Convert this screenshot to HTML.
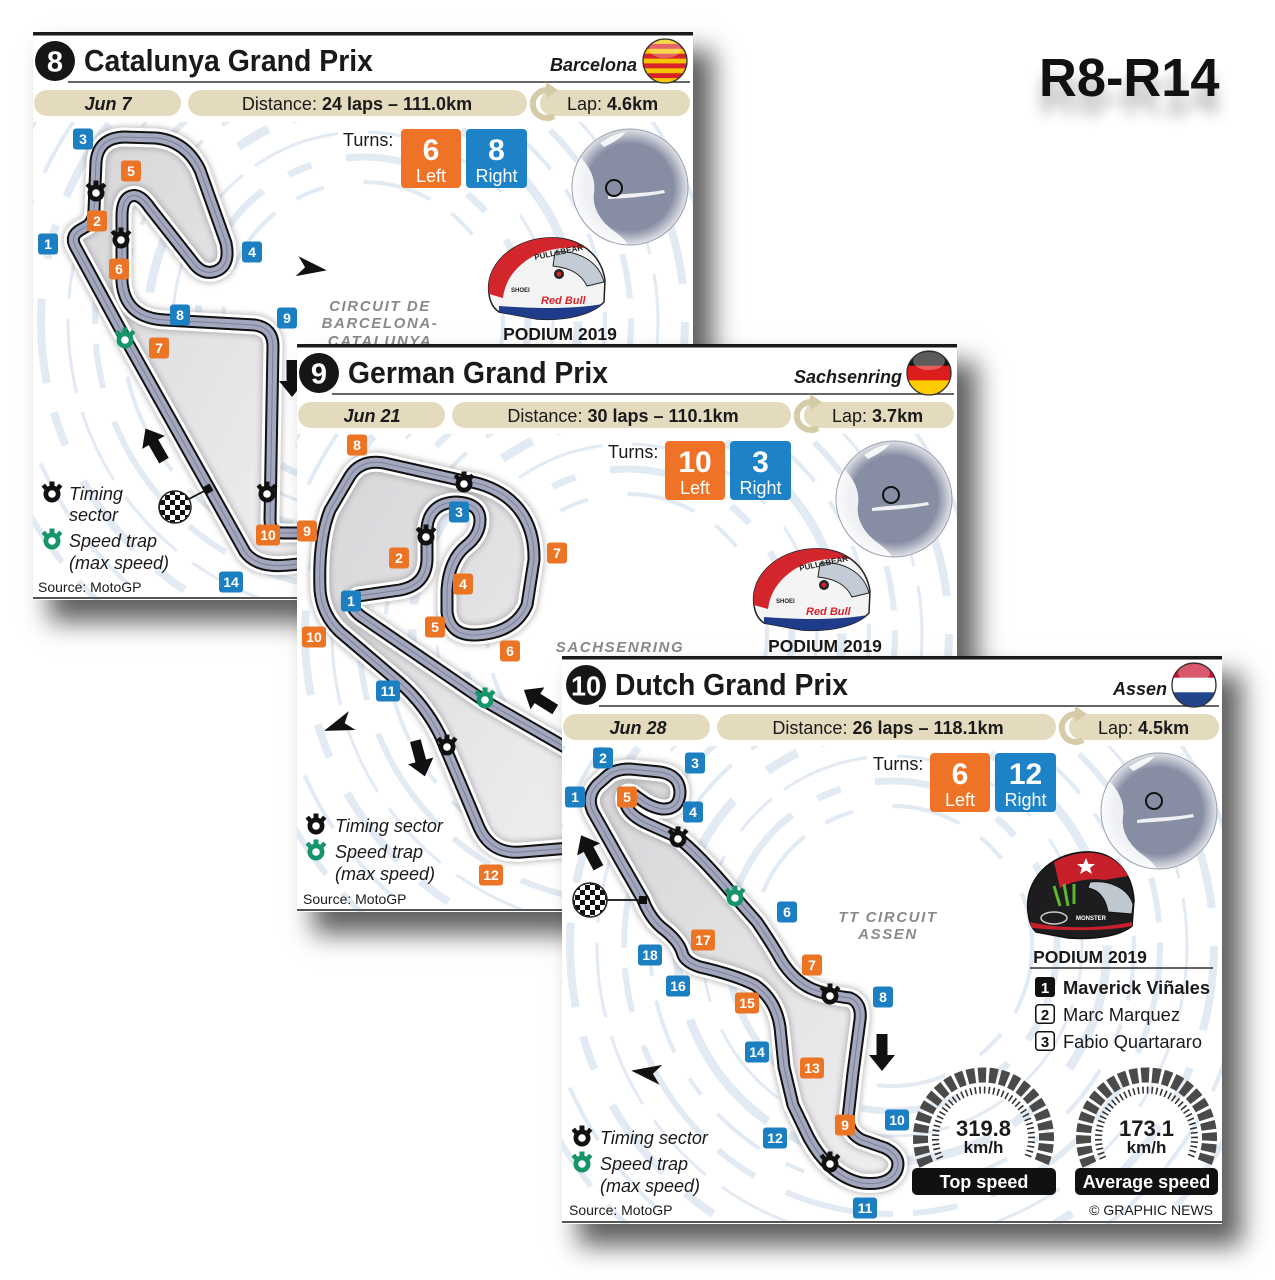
<!DOCTYPE html>
<html><head><meta charset="utf-8">
<style>
html,body{margin:0;padding:0;background:#fff;}
body{width:1275px;height:1280px;position:relative;overflow:hidden;font-family:"Liberation Sans",Arial,sans-serif;}
.card{position:absolute;width:660px;height:568px;background:#fff;box-shadow:18px 20px 24px 2px rgba(0,0,0,.62);}
.card svg{display:block;}
text{font-family:"Liberation Sans",Arial,sans-serif;}
.lt{font-size:14px;font-weight:bold;fill:#fff;text-anchor:middle;}
.o{fill:#ec7425;}.bl{fill:#1c7fc2;}
.leg{font-size:18px;font-style:italic;fill:#1a1a1a;}
.src{font-size:14px;fill:#1a1a1a;}
.cn{font-size:15px;font-weight:bold;font-style:italic;fill:#8a8a8a;letter-spacing:1.6px;text-anchor:middle;}
.pill{fill:#e4dabd;}
.pt{font-size:18px;fill:#1a1a1a;}
#r8{position:absolute;left:1039px;top:51px;font-size:54px;font-weight:bold;line-height:54px;transform:scaleX(.97);transform-origin:0 0;color:#111;text-shadow:0 18px 14px rgba(0,0,0,.3);white-space:nowrap;}
</style></head>
<body>
<svg width="0" height="0" style="position:absolute;left:0;top:0">
<defs>
<radialGradient id="rim" cx="0.5" cy="0.5" r="0.5"><stop offset="0" stop-color="#fff" stop-opacity="0"/><stop offset="0.75" stop-color="#fff" stop-opacity="0"/><stop offset="1" stop-color="#fff" stop-opacity="0.75"/></radialGradient>
<linearGradient id="inf" x1="0" y1="0" x2="1" y2="1"><stop offset="0" stop-color="#d6d6d9"/><stop offset="1" stop-color="#efeff1"/></linearGradient>
<pattern id="chk" width="10" height="10" patternUnits="userSpaceOnUse"><rect width="10" height="10" fill="#fff"/><rect width="5" height="5" fill="#111"/><rect x="5" y="5" width="5" height="5" fill="#111"/></pattern>
<filter id="blur" x="-20%" y="-20%" width="140%" height="140%"><feGaussianBlur stdDeviation="3"/></filter>
<clipPath id="bgc"><rect x="0" y="90" width="660" height="478"/></clipPath>
<g id="tm"><circle cy="1" r="8.5"/><rect x="-2.5" y="-11.5" width="5" height="5"/><rect x="-9.5" y="-8.5" width="4.5" height="4.5" transform="rotate(-40 -7.2 -6.2)"/><rect x="5" y="-8.5" width="4.5" height="4.5" transform="rotate(40 7.2 -6.2)"/><circle cy="1" r="3.8" fill="#fff"/></g>
<g id="ar"><polygon points="0,-19 13,-3 5.5,-3 5.5,18 -5.5,18 -5.5,-3 -13,-3"/></g>
<g id="cv"><path d="M17 0 L-13 -10 L-5 0 L-13 10 Z"/></g>
<g id="globe">
<circle r="58" fill="#878ea4"/>
<path d="M-50 -30 C-40 -20 -34 -8 -36 6 C-38 20 -30 34 -16 44 C-8 50 -4 54 -2 58 L-20 56 C-40 48 -56 30 -58 6 C-58 -10 -55 -22 -50 -30 Z" fill="#eef0f3"/>
<path d="M-22 9 C-6 6 12 7 34 3 L35 6 C14 10 -4 11 -22 12 Z" fill="#eef0f3"/>
<path d="M-30 -44 C-22 -50 -12 -54 -4 -55 C-10 -48 -18 -44 -26 -40 Z" fill="#eef0f3"/>
<circle r="58" fill="url(#rim)"/>
<circle r="58" fill="none" stroke="#9ca1b0" stroke-width="1"/>
</g>
<g id="bg" fill="none" stroke="#d6e2ee" opacity="0.7">
<circle cx="330" cy="290" r="140" stroke-width="4" stroke-dasharray="70 25 30 40"/>
<circle cx="330" cy="290" r="165" stroke-width="7" stroke-dasharray="100 30 25 35"/>
<circle cx="330" cy="290" r="190" stroke-width="3" stroke-dasharray="45 15 90 30"/>
<circle cx="330" cy="290" r="215" stroke-width="9" stroke-dasharray="130 45 35 25"/>
<circle cx="330" cy="290" r="242" stroke-width="4" stroke-dasharray="55 25 20 30"/>
<circle cx="330" cy="290" r="268" stroke-width="6" stroke-dasharray="110 35 45 20"/>
<circle cx="330" cy="290" r="295" stroke-width="3" stroke-dasharray="75 20"/>
<circle cx="330" cy="290" r="322" stroke-width="8" stroke-dasharray="85 40 35 30"/>
<circle cx="330" cy="290" r="352" stroke-width="4" stroke-dasharray="60 30"/>
<circle cx="330" cy="290" r="385" stroke-width="6" stroke-dasharray="95 30 40 25"/>
</g>
<path id="t1" d="M 305 563 C 285 566 258 570 245 552 L 125 338 L 75 246 Q 70 236 80 230 L 87 226 Q 94 221 94 210 L 96 162 Q 98 138 124 137 L 156 138 Q 186 141 200 170 L 226 243 Q 231 268 213 272 Q 203 274 195 265 L 150 208 Q 140 193 131 196 Q 122 199 122 216 L 122 282 Q 125 318 165 320 L 255 325 Q 273 328 273 346 L 270 520 Q 270 533 283 533 L 305 533"/>
<path id="t2" d="M 570 750 L 483 700 L 362 617 Q 345 605 358 596 L 400 590 Q 426 585 427 560 L 427 527 Q 430 503 456 502 Q 480 503 480 520 Q 480 535 466 546 Q 449 560 447 590 L 447 612 Q 450 636 476 635 Q 515 633 527 605 L 534 560 Q 535 518 505 496 Q 486 483 464 481 L 384 463 Q 361 459 350 476 L 330 510 Q 318 540 320 590 Q 322 615 340 632 L 400 683 Q 425 705 440 735 L 478 825 Q 490 855 522 852 L 570 848"/>
<path id="t3" d="M 643 900 L 620 860 L 593 812 Q 586 797 597 785 L 606 777 Q 614 769 630 769 L 660 772 Q 680 775 680 793 Q 679 810 662 809 Q 650 807 640 799 L 633 794 Q 623 790 625 802 Q 628 815 648 824 L 677 837 Q 700 855 735 897 L 757 922 Q 768 938 777 953 Q 790 978 810 988 Q 825 995 850 998 Q 862 1003 860 1020 L 853 1073 L 848 1118 Q 848 1133 862 1140 L 885 1148 Q 903 1157 896 1172 Q 888 1186 862 1183 Q 845 1180 830 1166 Q 815 1152 805 1130 L 793 1105 L 784 1067 L 780 1027 Q 776 1000 755 985 Q 735 975 700 967 Q 684 962 682 952 Q 678 940 662 928 Q 650 918 643 900 Z"/>
<clipPath id="fc"><circle cx="632" cy="29" r="22"/></clipPath>
</defs>
</svg>

<div id="r8">R8-R14</div>

<!-- CARD 1 -->
<div class="card" style="left:33px;top:32px;">
<svg width="660" height="568">
<use href="#bg" clip-path="url(#bgc)"/>
<rect x="0" y="0" width="660" height="3.5" fill="#1a1a1a"/>
<circle cx="22" cy="29" r="20" fill="#161616"/>
<text x="22" y="39.5" font-size="29" font-weight="bold" fill="#fff" text-anchor="middle">8</text>
<text x="51" y="39" font-size="31" font-weight="bold" fill="#1a1a1a" textLength="289" lengthAdjust="spacingAndGlyphs">Catalunya Grand Prix</text>
<line x1="35" y1="50" x2="657" y2="50" stroke="#333" stroke-width="1.5"/>
<text x="604" y="39" font-size="18" font-weight="bold" font-style="italic" fill="#1a1a1a" text-anchor="end">Barcelona</text>
<g clip-path="url(#fc)"><rect x="610" y="7" width="44" height="44" fill="#f6c700"/><rect x="610" y="11.9" width="44" height="4.9" fill="#d8232a"/><rect x="610" y="21.7" width="44" height="4.9" fill="#d8232a"/><rect x="610" y="31.4" width="44" height="4.9" fill="#d8232a"/><rect x="610" y="41.2" width="44" height="4.9" fill="#d8232a"/><ellipse cx="632" cy="17" rx="16" ry="9" fill="#fff" opacity=".3"/></g>
<circle cx="632" cy="29" r="22" fill="none" stroke="#333" stroke-width="1.3"/>
<rect class="pill" x="1" y="58" width="147" height="26" rx="13"/>
<rect class="pill" x="155" y="58" width="339" height="26" rx="13"/>
<rect class="pill" x="507" y="58" width="150" height="26" rx="13"/>
<text x="75" y="78" font-size="18" font-weight="bold" font-style="italic" fill="#1a1a1a" text-anchor="middle">Jun 7</text>
<text x="324" y="78" class="pt" text-anchor="middle">Distance: <tspan font-weight="bold">24 laps – 111.0km</tspan></text>
<path d="M521 84 A14 14 0 1 1 515 58" fill="none" stroke="#d6cba7" stroke-width="6"/><polygon points="513,50 525,58 513,66" fill="#d6cba7"/>
<text x="534" y="78" class="pt">Lap: <tspan font-weight="bold">4.6km</tspan></text>
<text x="310" y="114" class="pt">Turns:</text>
<rect x="368" y="97" width="60" height="59" rx="4" fill="#ee7326"/>
<rect x="433" y="97" width="61" height="59" rx="4" fill="#1d82c6"/>
<text x="398" y="128" font-size="30" font-weight="bold" fill="#fff" text-anchor="middle">6</text>
<text x="463.5" y="128" font-size="30" font-weight="bold" fill="#fff" text-anchor="middle">8</text>
<text x="398" y="150" font-size="18" fill="#fff" text-anchor="middle">Left</text>
<text x="463.5" y="150" font-size="18" fill="#fff" text-anchor="middle">Right</text>
<use href="#globe" x="597" y="155"/>
<circle cx="581" cy="156" r="8" fill="none" stroke="#111" stroke-width="2"/>
<g transform="translate(450,204)">
<path d="M6 58 C2 30 28 4 64 2 C96 0 118 18 122 44 L121 66 C110 78 84 85 54 83 L16 76 C10 72 7 66 6 58 Z" fill="#f4f4f4" stroke="#222" stroke-width="1.5"/>
<path d="M6 58 C2 30 28 4 64 2 C80 1 92 5 102 12 C80 10 58 14 44 24 C30 34 22 46 20 62 Z" fill="#d3252c"/>
<path d="M16 70 C45 72 85 74 120 68 L121 66 C110 78 84 85 54 83 L16 76 Z" fill="#1e3c8a"/>
<path d="M72 16 C96 14 116 26 121 46 L104 50 C98 38 88 32 70 30 Z" fill="#c3ccd6" stroke="#222"/>
<circle cx="76" cy="38" r="5" fill="#222"/><circle cx="76" cy="38" r="2.5" fill="#d3252c"/>
<text x="52" y="24" font-size="8" font-weight="bold" fill="#222" transform="rotate(-12 52 24)">PULL&amp;BEAR</text>
<text x="28" y="56" font-size="6" font-weight="bold" fill="#222">SHOEI</text>
<text x="58" y="68" font-size="11" font-weight="bold" font-style="italic" fill="#d3252c">Red Bull</text>
</g>
<text x="527" y="308" font-size="17.5" font-weight="bold" fill="#1a1a1a" text-anchor="middle">PODIUM 2019</text>
<text x="347" y="279" class="cn">CIRCUIT DE</text>
<text x="347" y="296" class="cn">BARCELONA-</text>
<text x="347" y="314" class="cn">CATALUNYA</text>
<g transform="translate(-33,-32)">
<use href="#t1" fill="url(#inf)"/>
<use href="#t1" fill="none" stroke="#777" stroke-width="22" opacity=".45" filter="url(#blur)"/>
<use href="#t1" fill="none" stroke="#fff" stroke-width="19" stroke-linejoin="round"/>
<use href="#t1" fill="none" stroke="#111" stroke-width="13" stroke-linejoin="round"/>
<use href="#t1" fill="none" stroke="#a3a8bf" stroke-width="9" stroke-linejoin="round"/>
<use href="#t1" fill="none" stroke="#7c8198" stroke-width="1"/>
<use href="#tm" x="96" y="192" fill="#111"/>
<use href="#tm" x="121" y="239" fill="#111"/>
<use href="#tm" x="267" y="493" fill="#111"/>
<use href="#tm" x="125" y="339" fill="#17956a"/>
<line x1="189" y1="499" x2="208" y2="489" stroke="#111" stroke-width="1.8"/>
<rect x="204" y="485" width="8" height="8" fill="#111" transform="rotate(-30 208 489)"/>
<circle cx="175" cy="507" r="16" fill="url(#chk)" stroke="#222" stroke-width="1.5"/>
<use href="#ar" transform="translate(155,445) rotate(-30)" fill="#111"/>
<use href="#ar" transform="translate(292,378) rotate(180)" fill="#111"/>
<use href="#cv" transform="translate(310,268) rotate(8)" fill="#111"/>
<rect class="bl" x="73" y="128.5" width="20" height="21" rx="3"/><text class="lt" x="83" y="144">3</text>
<rect class="o" x="121" y="160.5" width="20" height="21" rx="3"/><text class="lt" x="131" y="176">5</text>
<rect class="o" x="87" y="210.5" width="20" height="21" rx="3"/><text class="lt" x="97" y="226">2</text>
<rect class="bl" x="38" y="233.5" width="20" height="21" rx="3"/><text class="lt" x="48" y="249">1</text>
<rect class="o" x="109" y="258.5" width="20" height="21" rx="3"/><text class="lt" x="119" y="274">6</text>
<rect class="bl" x="242" y="241.5" width="20" height="21" rx="3"/><text class="lt" x="252" y="257">4</text>
<rect class="bl" x="170" y="304.5" width="20" height="21" rx="3"/><text class="lt" x="180" y="320">8</text>
<rect class="bl" x="277" y="307.5" width="20" height="21" rx="3"/><text class="lt" x="287" y="323">9</text>
<rect class="o" x="149" y="337.5" width="20" height="21" rx="3"/><text class="lt" x="159" y="353">7</text>
<rect class="o" x="256" y="524.5" width="24" height="21" rx="3"/><text class="lt" x="268" y="540">10</text>
<rect class="bl" x="219" y="571.5" width="24" height="21" rx="3"/><text class="lt" x="231" y="587">14</text>
</g>
<use href="#tm" x="19" y="461" fill="#111"/>
<text x="36" y="468" class="leg">Timing</text>
<text x="36" y="489" class="leg">sector</text>
<use href="#tm" x="19" y="508" fill="#17956a"/>
<text x="36" y="515" class="leg">Speed trap</text>
<text x="36" y="537" class="leg">(max speed)</text>
<text x="5" y="560" class="src">Source: MotoGP</text>
<line x1="0" y1="566" x2="660" y2="566" stroke="#555" stroke-width="2"/>
</svg>
</div>

<!-- CARD 2 -->
<div class="card" style="left:297px;top:344px;">
<svg width="660" height="568">
<use href="#bg" clip-path="url(#bgc)"/>
<rect x="0" y="0" width="660" height="3.5" fill="#1a1a1a"/>
<circle cx="22" cy="29" r="20" fill="#161616"/>
<text x="22" y="39.5" font-size="29" font-weight="bold" fill="#fff" text-anchor="middle">9</text>
<text x="51" y="39" font-size="31" font-weight="bold" fill="#1a1a1a" textLength="260" lengthAdjust="spacingAndGlyphs">German Grand Prix</text>
<line x1="35" y1="50" x2="657" y2="50" stroke="#333" stroke-width="1.5"/>
<text x="605" y="39" font-size="18" font-weight="bold" font-style="italic" fill="#1a1a1a" text-anchor="end">Sachsenring</text>
<g clip-path="url(#fc)"><rect x="610" y="7" width="44" height="15" fill="#151515"/><rect x="610" y="21.7" width="44" height="15" fill="#dd1c1c"/><rect x="610" y="36.3" width="44" height="15" fill="#ffcc00"/><ellipse cx="632" cy="17" rx="16" ry="9" fill="#fff" opacity=".3"/></g>
<circle cx="632" cy="29" r="22" fill="none" stroke="#333" stroke-width="1.3"/>
<rect class="pill" x="1" y="58" width="147" height="26" rx="13"/>
<rect class="pill" x="155" y="58" width="339" height="26" rx="13"/>
<rect class="pill" x="507" y="58" width="150" height="26" rx="13"/>
<text x="75" y="78" font-size="18" font-weight="bold" font-style="italic" fill="#1a1a1a" text-anchor="middle">Jun 21</text>
<text x="326" y="78" class="pt" text-anchor="middle">Distance: <tspan font-weight="bold">30 laps – 110.1km</tspan></text>
<path d="M521 84 A14 14 0 1 1 515 58" fill="none" stroke="#d6cba7" stroke-width="6"/><polygon points="513,50 525,58 513,66" fill="#d6cba7"/>
<text x="535" y="78" class="pt">Lap: <tspan font-weight="bold">3.7km</tspan></text>
<text x="311" y="114" class="pt">Turns:</text>
<rect x="368" y="97" width="60" height="59" rx="4" fill="#ee7326"/>
<rect x="433" y="97" width="61" height="59" rx="4" fill="#1d82c6"/>
<text x="398" y="128" font-size="30" font-weight="bold" fill="#fff" text-anchor="middle">10</text>
<text x="463.5" y="128" font-size="30" font-weight="bold" fill="#fff" text-anchor="middle">3</text>
<text x="398" y="150" font-size="18" fill="#fff" text-anchor="middle">Left</text>
<text x="463.5" y="150" font-size="18" fill="#fff" text-anchor="middle">Right</text>
<use href="#globe" x="597" y="155"/>
<circle cx="594" cy="151" r="8" fill="none" stroke="#111" stroke-width="2"/>
<g transform="translate(451,203)">
<path d="M6 58 C2 30 28 4 64 2 C96 0 118 18 122 44 L121 66 C110 78 84 85 54 83 L16 76 C10 72 7 66 6 58 Z" fill="#f4f4f4" stroke="#222" stroke-width="1.5"/>
<path d="M6 58 C2 30 28 4 64 2 C80 1 92 5 102 12 C80 10 58 14 44 24 C30 34 22 46 20 62 Z" fill="#d3252c"/>
<path d="M16 70 C45 72 85 74 120 68 L121 66 C110 78 84 85 54 83 L16 76 Z" fill="#1e3c8a"/>
<path d="M72 16 C96 14 116 26 121 46 L104 50 C98 38 88 32 70 30 Z" fill="#c3ccd6" stroke="#222"/>
<circle cx="76" cy="38" r="5" fill="#222"/><circle cx="76" cy="38" r="2.5" fill="#d3252c"/>
<text x="52" y="24" font-size="8" font-weight="bold" fill="#222" transform="rotate(-12 52 24)">PULL&amp;BEAR</text>
<text x="28" y="56" font-size="6" font-weight="bold" fill="#222">SHOEI</text>
<text x="58" y="68" font-size="11" font-weight="bold" font-style="italic" fill="#d3252c">Red Bull</text>
</g>
<text x="528" y="308" font-size="17.5" font-weight="bold" fill="#1a1a1a" text-anchor="middle">PODIUM 2019</text>
<text x="323" y="308" class="cn">SACHSENRING</text>
<g transform="translate(-297,-344)">
<use href="#t2" fill="url(#inf)"/>
<use href="#t2" fill="none" stroke="#777" stroke-width="22" opacity=".45" filter="url(#blur)"/>
<use href="#t2" fill="none" stroke="#fff" stroke-width="19" stroke-linejoin="round"/>
<use href="#t2" fill="none" stroke="#111" stroke-width="13" stroke-linejoin="round"/>
<use href="#t2" fill="none" stroke="#a3a8bf" stroke-width="9" stroke-linejoin="round"/>
<use href="#t2" fill="none" stroke="#7c8198" stroke-width="1"/>
<use href="#tm" x="464" y="483" fill="#111"/>
<use href="#tm" x="426" y="536" fill="#111"/>
<use href="#tm" x="447" y="746" fill="#111"/>
<use href="#tm" x="485" y="699" fill="#17956a"/>
<use href="#ar" transform="translate(540,700) rotate(-58)" fill="#111"/>
<use href="#ar" transform="translate(420,758) rotate(165)" fill="#111"/>
<use href="#cv" transform="translate(340,725) rotate(160)" fill="#111"/>
<rect class="o" x="347" y="434.5" width="20" height="21" rx="3"/><text class="lt" x="357" y="450">8</text>
<rect class="bl" x="449" y="501.5" width="20" height="21" rx="3"/><text class="lt" x="459" y="517">3</text>
<rect class="o" x="297" y="520.5" width="20" height="21" rx="3"/><text class="lt" x="307" y="536">9</text>
<rect class="o" x="547" y="542.5" width="20" height="21" rx="3"/><text class="lt" x="557" y="558">7</text>
<rect class="o" x="389" y="547.5" width="20" height="21" rx="3"/><text class="lt" x="399" y="563">2</text>
<rect class="o" x="453" y="573.5" width="20" height="21" rx="3"/><text class="lt" x="463" y="589">4</text>
<rect class="bl" x="341" y="590.5" width="20" height="21" rx="3"/><text class="lt" x="351" y="606">1</text>
<rect class="o" x="425" y="616.5" width="20" height="21" rx="3"/><text class="lt" x="435" y="632">5</text>
<rect class="o" x="302" y="626.5" width="24" height="21" rx="3"/><text class="lt" x="314" y="642">10</text>
<rect class="o" x="500" y="640.5" width="20" height="21" rx="3"/><text class="lt" x="510" y="656">6</text>
<rect class="bl" x="376" y="680.5" width="24" height="21" rx="3"/><text class="lt" x="388" y="696">11</text>
<rect class="o" x="479" y="864.5" width="24" height="21" rx="3"/><text class="lt" x="491" y="880">12</text>
</g>
<use href="#tm" x="19" y="481" fill="#111"/>
<text x="38" y="488" class="leg">Timing sector</text>
<use href="#tm" x="19" y="507" fill="#17956a"/>
<text x="38" y="514" class="leg">Speed trap</text>
<text x="38" y="536" class="leg">(max speed)</text>
<text x="6" y="560" class="src">Source: MotoGP</text>
<line x1="0" y1="566" x2="660" y2="566" stroke="#555" stroke-width="2"/>
</svg>
</div>

<!-- CARD 3 -->
<div class="card" style="left:562px;top:656px;">
<svg width="660" height="568">
<use href="#bg" clip-path="url(#bgc)"/>
<rect x="0" y="0" width="660" height="3.5" fill="#1a1a1a"/>
<circle cx="24" cy="29" r="20" fill="#161616"/>
<text x="24" y="39.5" font-size="28" font-weight="bold" fill="#fff" text-anchor="middle" textLength="30" lengthAdjust="spacingAndGlyphs">10</text>
<text x="53" y="39" font-size="31" font-weight="bold" fill="#1a1a1a" textLength="233" lengthAdjust="spacingAndGlyphs">Dutch Grand Prix</text>
<line x1="37" y1="50" x2="657" y2="50" stroke="#333" stroke-width="1.5"/>
<text x="605" y="39" font-size="18" font-weight="bold" font-style="italic" fill="#1a1a1a" text-anchor="end">Assen</text>
<g clip-path="url(#fc)"><rect x="610" y="7" width="44" height="15" fill="#c8102e"/><rect x="610" y="21.7" width="44" height="15" fill="#fff"/><rect x="610" y="36.3" width="44" height="15" fill="#21468b"/><ellipse cx="632" cy="17" rx="16" ry="9" fill="#fff" opacity=".3"/></g>
<circle cx="632" cy="29" r="22" fill="none" stroke="#333" stroke-width="1.3"/>
<rect class="pill" x="1" y="58" width="147" height="26" rx="13"/>
<rect class="pill" x="155" y="58" width="339" height="26" rx="13"/>
<rect class="pill" x="507" y="58" width="150" height="26" rx="13"/>
<text x="76" y="78" font-size="18" font-weight="bold" font-style="italic" fill="#1a1a1a" text-anchor="middle">Jun 28</text>
<text x="326" y="78" class="pt" text-anchor="middle">Distance: <tspan font-weight="bold">26 laps – 118.1km</tspan></text>
<path d="M521 84 A14 14 0 1 1 515 58" fill="none" stroke="#d6cba7" stroke-width="6"/><polygon points="513,50 525,58 513,66" fill="#d6cba7"/>
<text x="536" y="78" class="pt">Lap: <tspan font-weight="bold">4.5km</tspan></text>
<text x="311" y="114" class="pt">Turns:</text>
<rect x="368" y="97" width="60" height="59" rx="4" fill="#ee7326"/>
<rect x="433" y="97" width="61" height="59" rx="4" fill="#1d82c6"/>
<text x="398" y="128" font-size="30" font-weight="bold" fill="#fff" text-anchor="middle">6</text>
<text x="463.5" y="128" font-size="30" font-weight="bold" fill="#fff" text-anchor="middle">12</text>
<text x="398" y="150" font-size="18" fill="#fff" text-anchor="middle">Left</text>
<text x="463.5" y="150" font-size="18" fill="#fff" text-anchor="middle">Right</text>
<use href="#globe" x="597" y="155"/>
<circle cx="592" cy="145" r="8" fill="none" stroke="#111" stroke-width="2"/>
<g transform="translate(462,194)">
<path d="M4 62 C0 30 26 4 60 2 C90 0 108 22 110 50 L108 76 C96 86 70 90 44 88 L12 82 C6 76 5 70 4 62 Z" fill="#1d1d1f" stroke="#111" stroke-width="1.5"/>
<path d="M30 12 C44 4 60 2 70 3 C86 5 98 14 104 26 L80 30 C68 28 50 30 36 38 Z" fill="#c8202a"/>
<path d="M6 72 C30 78 70 80 108 72 L108 76 C90 80 50 82 8 78 Z" fill="#c8202a"/>
<polygon points="62,8 64.5,14 71,14 66,18 68,24 62,20.5 56,24 58,18 53,14 59.5,14" fill="#fff"/>
<path d="M66 32 C86 30 104 38 109 54 L108 64 L84 62 C82 50 76 40 64 38 Z" fill="#bfc7cf" stroke="#111"/>
<path d="M30 36 L36 56 M40 34 L44 56 M50 34 L50 54" stroke="#5cb82f" stroke-width="3" fill="none"/>
<ellipse cx="30" cy="68" rx="13" ry="6" fill="none" stroke="#ccc" stroke-width="1.5"/>
<text x="52" y="70" font-size="6" font-weight="bold" fill="#fff">MONSTER</text>
</g>
<text x="528" y="307" font-size="17.5" font-weight="bold" fill="#1a1a1a" text-anchor="middle">PODIUM 2019</text>
<line x1="468" y1="312" x2="651" y2="312" stroke="#333" stroke-width="1.5"/>
<rect x="473" y="321" width="20" height="20" rx="3" fill="#111"/><text x="483" y="337" font-size="15" font-weight="bold" fill="#fff" text-anchor="middle">1</text>
<text x="501" y="338" font-size="18" font-weight="bold" fill="#1a1a1a" textLength="147" lengthAdjust="spacingAndGlyphs">Maverick Viñales</text>
<rect x="473.75" y="348.75" width="18.5" height="18.5" rx="3" fill="#fff" stroke="#111" stroke-width="1.5"/><text x="483" y="364" font-size="15" font-weight="bold" fill="#111" text-anchor="middle">2</text>
<text x="501" y="365" font-size="18" fill="#1a1a1a" textLength="117" lengthAdjust="spacingAndGlyphs">Marc Marquez</text>
<rect x="473.75" y="375.75" width="18.5" height="18.5" rx="3" fill="#fff" stroke="#111" stroke-width="1.5"/><text x="483" y="391" font-size="15" font-weight="bold" fill="#111" text-anchor="middle">3</text>
<text x="501" y="392" font-size="18" fill="#1a1a1a" textLength="139" lengthAdjust="spacingAndGlyphs">Fabio Quartararo</text>
<g transform="translate(421.5,482)">
<path d="M-57.1 26.6 A63 63 0 1 1 57.1 26.6" fill="none" stroke="#4a4a4a" stroke-width="15" stroke-dasharray="8 3"/>
<path d="M-43.5 20.3 A48 48 0 1 1 43.5 20.3" fill="none" stroke="#333" stroke-width="7" stroke-dasharray="1.6 3"/>
<text x="0" y="-2" font-size="22" font-weight="bold" fill="#1a1a1a" text-anchor="middle">319.8</text>
<text x="0" y="15" font-size="17" font-weight="bold" fill="#1a1a1a" text-anchor="middle">km/h</text>
</g>
<rect x="350" y="512" width="144" height="27" rx="5" fill="#111"/>
<text x="422" y="532" font-size="18" font-weight="bold" fill="#fff" text-anchor="middle">Top speed</text>
<g transform="translate(584.5,482)">
<path d="M-57.1 26.6 A63 63 0 1 1 57.1 26.6" fill="none" stroke="#4a4a4a" stroke-width="15" stroke-dasharray="8 3"/>
<path d="M-43.5 20.3 A48 48 0 1 1 43.5 20.3" fill="none" stroke="#333" stroke-width="7" stroke-dasharray="1.6 3"/>
<text x="0" y="-2" font-size="22" font-weight="bold" fill="#1a1a1a" text-anchor="middle">173.1</text>
<text x="0" y="15" font-size="17" font-weight="bold" fill="#1a1a1a" text-anchor="middle">km/h</text>
</g>
<rect x="513" y="512" width="143" height="27" rx="5" fill="#111"/>
<text x="584.5" y="532" font-size="18" font-weight="bold" fill="#fff" text-anchor="middle">Average speed</text>
<text x="326" y="266" class="cn">TT CIRCUIT</text>
<text x="326" y="283" class="cn">ASSEN</text>
<g transform="translate(-562,-656)">
<use href="#t3" fill="url(#inf)"/>
<use href="#t3" fill="none" stroke="#777" stroke-width="22" opacity=".45" filter="url(#blur)"/>
<use href="#t3" fill="none" stroke="#fff" stroke-width="19" stroke-linejoin="round"/>
<use href="#t3" fill="none" stroke="#111" stroke-width="13" stroke-linejoin="round"/>
<use href="#t3" fill="none" stroke="#a3a8bf" stroke-width="9" stroke-linejoin="round"/>
<use href="#t3" fill="none" stroke="#7c8198" stroke-width="1"/>
<use href="#tm" x="678" y="838" fill="#111"/>
<use href="#tm" x="830" y="995" fill="#111"/>
<use href="#tm" x="830" y="1163" fill="#111"/>
<use href="#tm" x="735" y="897" fill="#17956a"/>
<line x1="607" y1="900" x2="643" y2="900" stroke="#111" stroke-width="1.8"/>
<rect x="639" y="896" width="8" height="8" fill="#111"/>
<circle cx="590" cy="900" r="17" fill="url(#chk)" stroke="#222" stroke-width="1.5"/>
<use href="#ar" transform="translate(590,852) rotate(-28)" fill="#111"/>
<use href="#ar" transform="translate(882,1052) rotate(180)" fill="#111"/>
<use href="#cv" transform="translate(648,1073) rotate(188)" fill="#111"/>
<rect class="bl" x="593" y="747.5" width="20" height="21" rx="3"/><text class="lt" x="603" y="763">2</text>
<rect class="bl" x="685" y="752.5" width="20" height="21" rx="3"/><text class="lt" x="695" y="768">3</text>
<rect class="bl" x="565" y="786.5" width="20" height="21" rx="3"/><text class="lt" x="575" y="802">1</text>
<rect class="o" x="617" y="786.5" width="20" height="21" rx="3"/><text class="lt" x="627" y="802">5</text>
<rect class="bl" x="683" y="801.5" width="20" height="21" rx="3"/><text class="lt" x="693" y="817">4</text>
<rect class="bl" x="777" y="901.5" width="20" height="21" rx="3"/><text class="lt" x="787" y="917">6</text>
<rect class="o" x="691" y="929.5" width="24" height="21" rx="3"/><text class="lt" x="703" y="945">17</text>
<rect class="bl" x="638" y="944.5" width="24" height="21" rx="3"/><text class="lt" x="650" y="960">18</text>
<rect class="o" x="802" y="954.5" width="20" height="21" rx="3"/><text class="lt" x="812" y="970">7</text>
<rect class="bl" x="666" y="975.5" width="24" height="21" rx="3"/><text class="lt" x="678" y="991">16</text>
<rect class="bl" x="873" y="986.5" width="20" height="21" rx="3"/><text class="lt" x="883" y="1002">8</text>
<rect class="o" x="735" y="992.5" width="24" height="21" rx="3"/><text class="lt" x="747" y="1008">15</text>
<rect class="bl" x="745" y="1041.5" width="24" height="21" rx="3"/><text class="lt" x="757" y="1057">14</text>
<rect class="o" x="800" y="1057.5" width="24" height="21" rx="3"/><text class="lt" x="812" y="1073">13</text>
<rect class="bl" x="885" y="1109.5" width="24" height="21" rx="3"/><text class="lt" x="897" y="1125">10</text>
<rect class="o" x="835" y="1114.5" width="20" height="21" rx="3"/><text class="lt" x="845" y="1130">9</text>
<rect class="bl" x="763" y="1127.5" width="24" height="21" rx="3"/><text class="lt" x="775" y="1143">12</text>
<rect class="bl" x="853" y="1197.5" width="24" height="21" rx="3"/><text class="lt" x="865" y="1213">11</text>
</g>
<use href="#tm" x="20" y="481" fill="#111"/>
<text x="38" y="488" class="leg">Timing sector</text>
<use href="#tm" x="20" y="507" fill="#17956a"/>
<text x="38" y="514" class="leg">Speed trap</text>
<text x="38" y="536" class="leg">(max speed)</text>
<text x="7" y="559" class="src">Source: MotoGP</text>
<text x="651" y="559" class="src" text-anchor="end">© GRAPHIC NEWS</text>
<line x1="0" y1="566" x2="660" y2="566" stroke="#555" stroke-width="2"/>
</svg>
</div>
</body></html>
